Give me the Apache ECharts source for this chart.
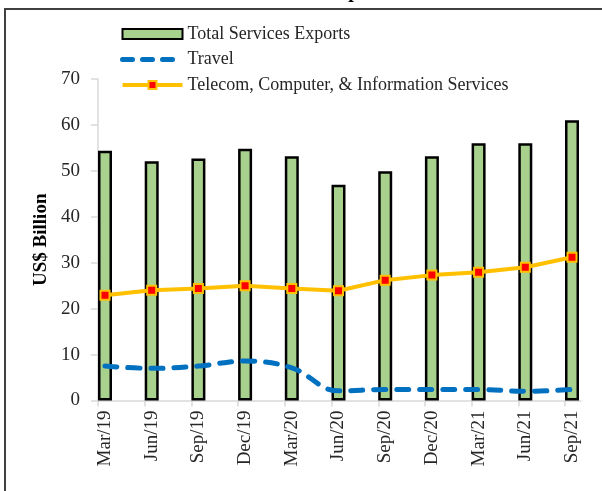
<!DOCTYPE html>
<html>
<head>
<meta charset="utf-8">
<script src="https://cdn.jsdelivr.net/npm/echarts@6/dist/echarts.min.js"></script>
<style>
html,body{margin:0;padding:0;background:#fff;}
#chart{width:602px;height:491px;}
</style>
</head>
<body>
<div id="chart"></div>
<script>
const categories = ['Mar/19','Jun/19','Sep/19','Dec/19','Mar/20','Jun/20','Sep/20','Dec/20','Mar/21','Jun/21','Sep/21'];
const totalExports = [54.4, 52.1, 52.7, 54.8, 53.2, 47.0, 49.9, 53.2, 56.0, 56.0, 61.0];
const travel = [7.5, 7.0, 7.5, 8.6, 7.1, 2.1, 2.4, 2.4, 2.4, 2.0, 2.4];
const telecom = [22.9, 24.0, 24.4, 25.0, 24.4, 23.9, 26.2, 27.3, 27.9, 29.0, 31.2];
const yMin = 0, yMax = 70, yInterval = 10;
const tickSlots = [0,1,2,3,4,5,6,7,8,9,10];

const serif = "'Liberation Serif','Times New Roman',serif";
const chart = echarts.init(document.getElementById('chart'));
chart.setOption({
  animation: false,
  backgroundColor: '#fff',
  graphic: [
    { type: 'rect', silent: true, z: 100, shape: { x: 5, y: 9, width: 700, height: 600 },
      style: { fill: 'none', stroke: '#404040', lineWidth: 2 } },
    { type: 'text', silent: true, x: 301, y: -8,
      style: { text: 'U.S. Services Exports', font: "bold 20px 'Liberation Serif'", fill: '#000', align: 'center', verticalAlign: 'middle' } }
  ],
  legend: {
    orient: 'vertical', left: 120, top: 25, padding: 0,
    itemWidth: 60, itemHeight: 10, itemGap: 7.5,
    textStyle: { fontFamily: serif, fontSize: 18, lineHeight: 18, color: '#262626' },
    data: [
      { name: 'Total Services Exports', icon: 'rect' },
      { name: 'Travel', itemStyle: { color: 'rgba(0,0,0,0)', borderWidth: 0 },
        lineStyle: { width: 5, type: [10, 10], cap: 'round', color: '#0070c0' } },
      { name: 'Telecom, Computer, & Information Services',
        lineStyle: { width: 4, color: '#ffc000' } }
    ]
  },
  grid: [
    { left: 105, right: 30, top: 79, bottom: 90.5 },
    { left: 98, right: 21, top: 79, bottom: 90.5 }
  ],
  xAxis: [
    { type: 'category', gridIndex: 0, data: categories, boundaryGap: false,
      axisLine: { show: false }, axisTick: { show: false },
      axisLabel: { rotate: 90, margin: 10, fontFamily: serif, fontSize: 19, color: '#262626' } },
    { type: 'value', gridIndex: 1, min: 0, max: 10.34,
      axisLine: { show: true, lineStyle: { color: '#d9d9d9', width: 1.5 } },
      axisTick: { show: true, length: 6, customValues: tickSlots, lineStyle: { color: '#d9d9d9', width: 1.5 } },
      axisLabel: { show: false }, splitLine: { show: false } }
  ],
  yAxis: [
    { type: 'value', gridIndex: 0, min: yMin, max: yMax, interval: yInterval, show: false },
    { type: 'value', gridIndex: 1, min: yMin, max: yMax, interval: yInterval,
      name: 'US$ Billion', nameLocation: 'middle', nameGap: 45,
      nameTextStyle: { fontFamily: serif, fontSize: 19, fontWeight: 'bold', color: '#000' },
      axisLine: { show: true, lineStyle: { color: '#d9d9d9', width: 1.5 } },
      axisTick: { show: true, length: 7, lineStyle: { color: '#d9d9d9', width: 1.5 } },
      axisLabel: { margin: 18, fontFamily: serif, fontSize: 19, color: '#262626' },
      splitLine: { show: false } }
  ],
  series: [
    { name: 'Total Services Exports', type: 'bar', xAxisIndex: 0, yAxisIndex: 0,
      data: totalExports, barWidth: 14, clip: false,
      itemStyle: { color: '#a9d18e', borderColor: '#000', borderWidth: 2.5 } },
    { name: 'Travel', type: 'line', xAxisIndex: 0, yAxisIndex: 0, data: travel,
      smooth: 0.4, symbol: 'none', clip: false, z: 3,
      lineStyle: { color: '#0070c0', width: 5, type: [12, 11], cap: 'round' },
      itemStyle: { color: '#0070c0' } },
    { name: 'Telecom, Computer, & Information Services', type: 'line', xAxisIndex: 0, yAxisIndex: 0,
      data: telecom, symbol: 'rect', symbolSize: 9, clip: false, z: 4,
      lineStyle: { color: '#ffc000', width: 4 },
      itemStyle: { color: '#ff0000', borderColor: '#ffc000', borderWidth: 2 } }
  ]
});
</script>
</body>
</html>
